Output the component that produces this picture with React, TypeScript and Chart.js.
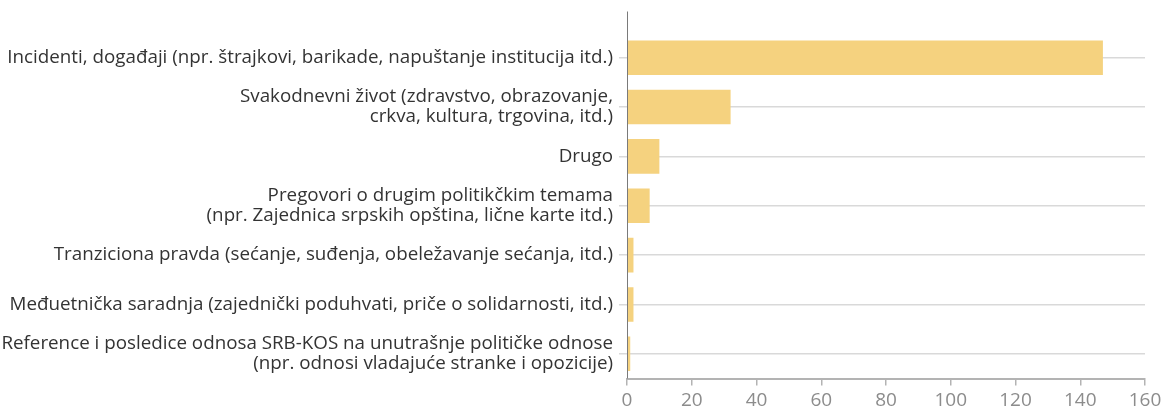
import React, { useEffect, useRef } from "react";
import { Chart, registerables } from "chart.js";

Chart.register(...registerables);

const categories: (string | string[])[] = [
  "Incidenti, događaji (npr. štrajkovi, barikade, napuštanje institucija itd.)",
  ["Svakodnevni život (zdravstvo, obrazovanje,", "crkva, kultura, trgovina, itd.)"],
  "Drugo",
  ["Pregovori o drugim politikčkim temama", "(npr. Zajednica srpskih opština, lične karte itd.)"],
  "Tranziciona pravda (sećanje, suđenja, obeležavanje sećanja, itd.)",
  "Međuetnička saradnja (zajednički poduhvati, priče o solidarnosti, itd.)",
  [
    "Reference i posledice odnosa SRB-KOS na unutrašnje političke odnose",
    "(npr. odnosi vladajuće stranke i opozicije)",
  ],
];

const values = [147, 32, 10, 7, 2, 2, 1];

const xMin = 0;
const xMax = 160;
const xStep = 20;

const yAxisLine = {
  id: "yAxisLine",
  afterDatasetsDraw(chart: any) {
    const { ctx, chartArea } = chart;
    ctx.save();
    ctx.strokeStyle = "#7a7a7a";
    ctx.lineWidth = 1;
    const x = Math.round(chartArea.left) + 0.5;
    ctx.beginPath();
    ctx.moveTo(x, 11.5);
    ctx.lineTo(x, chartArea.bottom);
    ctx.stroke();
    ctx.restore();
  },
};

export default function App() {
  const ref = useRef<HTMLCanvasElement | null>(null);

  useEffect(() => {
    if (!ref.current) return;
    const chart = new Chart(ref.current, {
      type: "bar",
      data: {
        labels: categories as any,
        datasets: [
          {
            data: values,
            backgroundColor: "rgb(245, 210, 127)",
            borderWidth: 0,
            barPercentage: 0.7,
            categoryPercentage: 1,
          },
        ],
      },
      options: {
        indexAxis: "y",
        animation: false,
        responsive: true,
        maintainAspectRatio: false,
        layout: { padding: { top: 33, right: 18, left: 0, bottom: 0 } },
        plugins: {
          legend: { display: false },
          tooltip: { enabled: false },
        },
        scales: {
          x: {
            min: xMin,
            max: xMax,
            ticks: {
              stepSize: xStep,
              color: "#8c8c8c",
              font: { family: "Open Sans", size: 19 },
              padding: 4,
            },
            grid: {
              drawOnChartArea: false,
              drawTicks: true,
              tickLength: 7,
              color: "#b3b3b3",
              lineWidth: 1.5,
            },
            border: { display: true, color: "#b3b3b3", width: 2 },
            afterFit(scale: any) {
              scale.height = 29.5;
              scale.paddingRight = 0;
              scale.paddingLeft = 0;
            },
          },
          y: {
            ticks: {
              color: "#333333",
              font: { family: "Open Sans", size: 18.8, lineHeight: 1.06 },
              padding: 6,
            },
            grid: {
              offset: false,
              drawOnChartArea: true,
              drawTicks: true,
              tickLength: 8,
              color: "#d9d9d9",
              lineWidth: 1.5,
            },
            border: { display: false },
            afterFit(scale: any) {
              scale.width = 627;
              scale.paddingTop = 0;
              scale.paddingBottom = 0;
            },
          },
        },
      },
      plugins: [yAxisLine],
    });
    return () => chart.destroy();
  }, []);

  return (
    <div style={{ position: "absolute", left: 0, top: 0, width: 1163, height: 408 }}>
      <canvas ref={ref} />
    </div>
  );
}
